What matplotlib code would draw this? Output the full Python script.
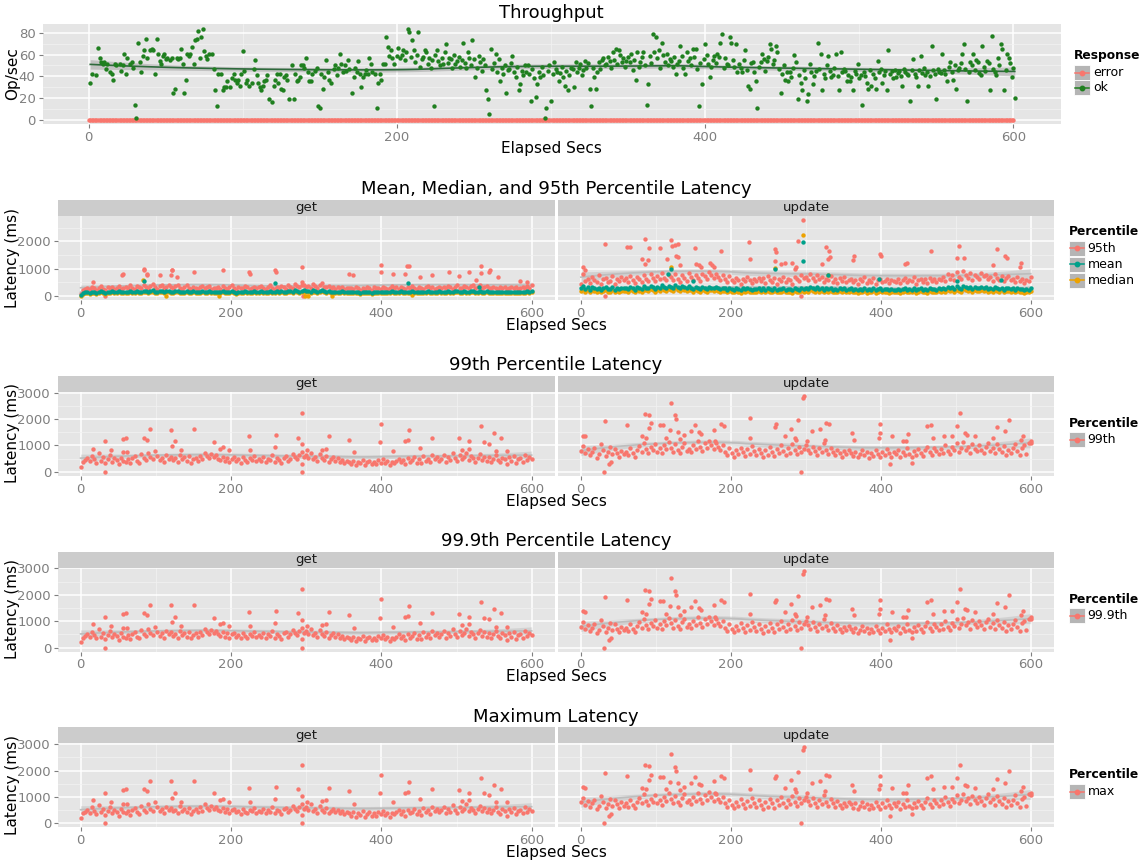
import numpy as np
import matplotlib.pyplot as plt
from matplotlib.patches import Rectangle
from matplotlib.lines import Line2D

# ---------------- values ----------------
# Throughput, successful ops/sec as (elapsed second, value)
tp_ok_points = [
    (1, 34), (2, 42), (5, 41), (6, 66), (7, 57), (8, 53), (9, 51), (10, 53), (11, 47), (12, 51),
    (14, 44), (15, 42), (16, 37), (17, 51), (18, 50), (20, 51), (21, 45), (22, 50), (23, 61), (24, 42),
    (25, 57), (27, 51), (28, 53), (29, 48), (30, 14), (31, 2), (32, 71), (33, 53), (34, 44), (35, 59),
    (36, 64), (37, 74), (38, 57), (40, 64), (41, 65), (42, 64), (43, 42), (44, 74), (45, 61), (46, 54),
    (47, 51), (48, 59), (49, 61), (50, 56), (51, 57), (53, 55), (54, 57), (55, 25), (56, 28), (57, 57),
    (58, 56), (59, 57), (60, 65), (61, 51), (62, 25), (63, 37), (64, 61), (65, 59), (66, 61), (67, 67),
    (68, 51), (69, 73), (70, 74), (71, 82), (72, 57), (73, 76), (74, 84), (75, 63), (76, 59), (77, 56),
    (78, 61), (80, 61), (81, 47), (82, 27), (83, 13), (84, 42), (86, 42), (87, 27), (88, 30), (89, 30),
    (90, 36), (92, 30), (93, 38), (94, 42), (95, 37), (96, 34), (97, 37), (98, 31), (99, 42), (100, 63),
    (101, 45), (102, 34), (103, 37), (104, 31), (106, 34), (107, 47), (108, 55), (109, 41), (110, 34), (111, 30),
    (112, 27), (113, 31), (114, 36), (115, 37), (116, 41), (117, 19), (119, 16), (120, 31), (121, 37), (122, 42),
    (123, 34), (124, 42), (125, 28), (126, 27), (127, 39), (128, 41), (129, 37), (130, 19), (132, 50), (133, 19),
    (134, 42), (135, 36), (136, 37), (137, 39), (138, 50), (139, 50), (140, 48), (141, 57), (142, 44), (143, 36),
    (144, 36), (145, 42), (147, 45), (148, 48), (149, 13), (150, 11), (151, 42), (152, 28), (153, 39), (154, 55),
    (155, 44), (156, 37), (157, 34), (159, 47), (160, 50), (161, 41), (162, 48), (163, 61), (164, 51), (165, 44),
    (166, 50), (167, 45), (168, 55), (169, 47), (171, 25), (172, 39), (173, 48), (174, 44), (175, 54), (176, 42),
    (177, 30), (178, 39), (179, 42), (180, 46), (181, 42), (182, 57), (183, 51), (184, 44), (186, 42), (187, 11),
    (188, 34), (189, 42), (190, 37), (191, 51), (192, 51), (193, 76), (194, 67), (195, 59), (196, 64), (197, 57),
    (198, 51), (200, 59), (201, 66), (202, 57), (204, 64), (207, 84), (208, 81), (210, 73), (211, 64), (214, 81),
    (216, 56), (218, 64), (220, 51), (221, 57), (222, 48), (224, 13), (226, 64), (227, 54), (230, 51), (232, 70),
    (234, 57), (236, 48), (239, 54), (243, 71), (245, 48), (247, 57), (249, 73), (251, 39), (253, 59), (256, 56),
    (258, 27), (259, 19), (260, 5), (261, 65), (264, 61), (266, 56), (267, 36), (270, 50), (271, 25), (273, 47),
    (275, 59), (277, 39), (279, 27), (280, 33), (284, 44), (285, 50), (287, 17), (290, 21), (291, 33), (293, 39),
    (296, 2), (297, 11), (300, 17), (302, 53), (304, 44), (305, 36), (308, 39), (309, 31), (311, 27), (313, 48),
    (314, 47), (315, 30), (316, 53), (318, 48), (320, 41), (322, 54), (323, 48), (325, 28), (326, 13), (327, 48),
    (328, 39), (329, 28), (330, 44), (331, 53), (334, 57), (336, 51), (338, 54), (340, 62), (342, 65), (344, 64),
    (347, 57), (349, 54), (351, 53), (352, 61), (355, 37), (356, 62), (358, 53), (360, 62), (361, 50), (362, 14),
    (363, 33), (364, 59), (366, 79), (367, 62), (368, 76), (370, 64), (372, 71), (374, 53), (375, 61), (376, 50),
    (378, 54), (381, 42), (383, 54), (384, 68), (387, 42), (388, 62), (390, 57), (392, 65), (394, 65), (396, 13),
    (398, 33), (400, 70), (402, 51), (403, 39), (406, 59), (408, 61), (410, 71), (411, 79), (414, 51), (416, 76),
    (417, 71), (420, 70), (421, 44), (422, 51), (424, 44), (426, 64), (428, 31), (429, 28), (431, 53), (433, 36),
    (434, 11), (436, 53), (437, 61), (440, 54), (442, 70), (443, 65), (446, 68), (447, 62), (449, 25), (452, 37),
    (453, 44), (454, 36), (456, 39), (458, 60), (460, 19), (462, 34), (463, 27), (466, 17), (467, 24), (468, 51),
    (470, 33), (472, 45), (473, 71), (475, 61), (476, 27), (479, 50), (480, 59), (482, 39), (485, 61), (487, 27),
    (488, 62), (491, 45), (492, 36), (494, 36), (496, 27), (499, 51), (501, 41), (502, 14), (505, 34), (506, 28),
    (508, 31), (511, 28), (512, 54), (515, 34), (518, 27), (519, 64), (521, 45), (524, 39), (526, 45), (528, 31),
    (531, 42), (533, 17), (535, 56), (538, 31), (540, 59), (543, 41), (545, 31), (547, 68), (550, 19), (552, 44),
    (554, 61), (557, 36), (559, 53), (561, 37), (563, 28), (565, 48), (567, 61), (568, 70), (570, 17), (572, 53),
    (574, 61), (577, 53), (579, 41), (580, 68), (583, 54), (585, 27), (586, 77), (589, 41), (590, 57), (592, 70),
    (593, 65), (594, 27), (596, 61), (597, 57), (599, 39), (600, 48), (601, 20),
]
# the crowded middle band after 200 s, estimated where single points blur together
tp_ok_band_points = [
    (203, 60), (205, 55), (206, 62), (209, 58), (212, 53), (213, 60), (215, 49), (217, 58), (219, 62), (223, 55),
    (225, 60), (228, 50), (229, 57), (231, 62), (233, 52), (235, 56), (237, 60), (238, 51), (240, 58), (241, 49),
    (242, 55), (244, 52), (246, 62), (248, 50), (250, 56), (252, 48), (254, 53), (255, 45), (257, 50), (262, 47),
    (263, 52), (265, 44), (268, 48), (269, 42), (272, 46), (274, 52), (276, 44), (278, 49), (281, 45), (282, 41),
    (283, 50), (286, 42), (288, 47), (289, 38), (292, 44), (294, 49), (295, 41), (298, 45), (299, 50), (301, 42),
    (303, 47), (306, 43), (307, 49), (310, 45), (312, 41), (317, 44), (319, 51), (321, 46), (324, 52), (332, 47),
    (333, 55), (335, 50), (337, 58), (339, 48), (341, 55), (343, 51), (345, 60), (346, 53), (348, 49), (350, 58),
    (353, 46), (354, 55), (357, 49), (359, 58), (365, 52), (369, 57), (371, 48), (373, 60), (377, 56), (379, 49),
    (380, 58), (382, 51), (385, 59), (386, 48), (389, 54), (391, 50), (393, 58), (395, 47), (397, 52), (399, 56),
    (401, 60), (404, 49), (405, 55), (407, 52), (409, 58), (412, 48), (413, 57), (415, 50), (418, 55), (419, 49),
    (423, 48), (425, 55), (427, 46), (430, 52), (432, 44), (435, 49), (438, 56), (439, 45), (441, 58), (444, 51),
    (445, 55), (448, 47), (450, 42), (451, 50), (455, 44), (457, 48), (459, 53), (461, 41), (464, 46), (465, 38),
    (469, 44), (471, 40), (474, 47), (477, 42), (478, 38), (481, 45), (483, 41), (484, 48), (486, 40), (489, 44),
    (490, 47), (493, 41), (495, 39), (497, 45), (498, 42), (500, 38), (503, 44), (504, 40), (507, 46), (509, 42),
    (510, 38), (513, 44), (514, 47), (516, 41), (517, 45), (520, 42), (522, 38), (523, 46), (525, 43), (527, 40),
    (529, 47), (530, 44), (532, 41), (534, 46), (536, 42), (537, 39), (539, 46), (541, 43), (542, 48), (544, 44),
    (546, 40), (548, 46), (549, 42), (551, 47), (553, 43), (555, 46), (556, 42), (558, 49), (560, 44), (562, 50),
    (564, 46), (566, 52), (569, 47), (571, 44), (573, 50), (575, 46), (576, 55), (578, 43), (581, 49), (582, 45),
    (584, 52), (587, 47), (588, 44), (591, 50), (595, 46), (598, 52),
]
# failed ops/sec: one point per second, all zero
tp_error_secs = list(range(0, 601))
tp_error = [0] * 601

# Latency (ms). Dense body sampled every 3 s; stand-out points listed apart.
get_p95_base = [90, 210, 260, 300, 250, 330, 280, 240, 310, 360, 270, 230, 320, 290, 350, 260, 300, 380, 250, 290,
                340, 280, 400, 310, 260, 370, 330, 290, 420, 350, 300, 380, 440, 320, 270, 360, 410, 300, 350, 390,
                330, 280, 360, 420, 300, 260, 340, 390, 310, 270, 350, 300, 250, 330, 380, 290, 320, 360, 270, 310,
                290, 340, 250, 380, 310, 270, 330, 420, 290, 240, 350, 310, 280, 370, 330, 260, 300, 350, 280, 320,
                360, 290, 250, 330, 400, 310, 270, 350, 300, 380, 330, 270, 410, 340, 300, 450, 360, 320, 390, 420,
                340, 380, 310, 430, 360, 290, 400, 470, 350, 320, 380, 300, 340, 270, 320, 290, 350, 260, 310, 280,
                300, 250, 330, 280, 240, 310, 270, 350, 290, 230, 320, 280, 300, 260, 340, 290, 250, 310, 370, 280,
                320, 270, 350, 300, 260, 330, 290, 380, 310, 270, 340, 300, 250, 320, 360, 290, 330, 270, 310, 350,
                300, 340, 280, 370, 320, 260, 350, 400, 310, 290, 380, 330, 280, 360, 420, 300, 340, 390, 290, 330,
                370, 310, 280, 350, 300, 260, 340, 290, 320, 270, 310, 350, 280, 330, 260, 300, 340, 290, 380, 310,
                420]
get_p95_peak_secs = [16, 33, 55, 56, 84, 85, 88, 89, 105, 120, 121, 122, 128, 151, 189, 224, 225, 259, 260, 294,
                     295, 296, 357, 362, 399, 400, 416, 432, 434, 437, 451, 468, 490, 503, 516, 526, 533, 533, 543, 545,
                     555, 584, 594]
get_p95_peak = [515, 0, 755, 815, 1000, 935, 755, 815, 755, 755, 970, 935, 695, 875, 935, 875, 790, 935, 875, 515,
                1055, 0, 815, 755, 1150, 875, 790, 790, 1115, 1090, 695, 755, 875, 720, 875, 575, 1115, 850, 875, 970,
                695, 540, 515]

get_mean_base = [40, 110, 140, 160, 130, 170, 150, 120, 160, 180, 140, 130, 170, 150, 180, 140, 160, 190, 140, 150,
                 170, 150, 190, 160, 140, 180, 170, 150, 200, 180, 160, 190, 210, 170, 150, 180, 200, 160, 180, 190,
                 170, 150, 180, 200, 160, 140, 170, 190, 160, 150, 180, 160, 140, 170, 190, 150, 160, 180, 150, 160,
                 150, 170, 140, 180, 160, 140, 170, 190, 150, 130, 170, 160, 150, 180, 170, 140, 160, 180, 150, 170,
                 180, 150, 140, 170, 190, 160, 150, 180, 160, 190, 170, 150, 200, 180, 160, 220, 190, 170, 200, 210,
                 180, 200, 170, 210, 190, 160, 200, 230, 180, 170, 190, 160, 170, 150, 170, 150, 180, 140, 160, 150,
                 160, 140, 170, 150, 130, 160, 140, 170, 150, 130, 160, 150, 160, 140, 170, 150, 140, 160, 180, 150,
                 170, 150, 180, 160, 140, 170, 150, 190, 160, 150, 170, 160, 140, 170, 180, 150, 170, 150, 160, 180,
                 160, 170, 150, 190, 170, 140, 180, 200, 160, 150, 190, 170, 150, 180, 200, 160, 170, 190, 150, 170,
                 180, 160, 150, 170, 160, 140, 170, 150, 160, 140, 160, 170, 150, 170, 140, 160, 170, 150, 180, 160,
                 190]
get_mean_peak_secs = [85, 259, 436, 530]
get_mean_peak = [540, 490, 490, 330]

get_median_base = [20, 80, 100, 120, 90, 130, 110, 80, 120, 140, 100, 90, 130, 110, 140, 100, 120, 150, 100, 110,
                   130, 110, 150, 120, 100, 140, 130, 110, 160, 140, 120, 150, 170, 130, 110, 140, 160, 120, 140, 150,
                   130, 110, 140, 160, 120, 100, 130, 150, 120, 110, 140, 120, 100, 130, 150, 110, 120, 140, 110, 120,
                   110, 130, 100, 140, 120, 100, 130, 150, 110, 90, 130, 120, 110, 140, 130, 100, 120, 140, 110, 130,
                   140, 110, 100, 130, 150, 120, 110, 140, 120, 150, 130, 110, 160, 140, 120, 180, 150, 130, 160, 170,
                   140, 160, 130, 170, 150, 120, 160, 190, 140, 130, 150, 120, 130, 110, 130, 110, 140, 100, 120, 110,
                   120, 100, 130, 110, 90, 120, 100, 130, 110, 90, 120, 110, 120, 100, 130, 110, 100, 120, 140, 110,
                   130, 110, 140, 120, 100, 130, 110, 150, 120, 110, 130, 120, 100, 130, 140, 110, 130, 110, 120, 140,
                   120, 130, 110, 150, 130, 100, 140, 160, 120, 110, 150, 130, 110, 140, 160, 120, 130, 150, 110, 130,
                   140, 120, 110, 130, 120, 100, 130, 110, 120, 100, 120, 130, 110, 130, 100, 120, 130, 110, 140, 120,
                   150]
get_median_peak_secs = [83, 113, 184, 298, 303, 334, 441]
get_median_peak = [600, 5, 20, 0, 10, 0, 40]

update_p95_base = [450, 820, 560, 640, 480, 700, 590, 520, 760, 430, 610, 680, 500, 570, 740, 460, 620, 540, 690, 580,
                   650, 520, 720, 600, 470, 700, 620, 520, 760, 640, 560, 800, 680, 540, 740, 620, 840, 680, 580, 780,
                   700, 580, 820, 640, 520, 760, 660, 560, 860, 700, 600, 780, 660, 560, 820, 720, 640, 880, 760, 660,
                   820, 700, 600, 760, 640, 520, 720, 600, 500, 680, 580, 460, 640, 540, 700, 600, 480, 640, 560, 680,
                   540, 650, 480, 720, 600, 530, 680, 460, 620, 560, 700, 500, 640, 580, 450, 690, 610, 540, 760, 650,
                   700, 580, 820, 660, 540, 760, 620, 700, 500, 640, 580, 720, 520, 610, 480, 660, 560, 690, 530, 600,
                   640, 500, 580, 460, 620, 540, 700, 480, 600, 520, 660, 450, 580, 640, 500, 560, 620, 470, 600, 540,
                   520, 620, 480, 580, 660, 500, 600, 540, 700, 460, 580, 640, 520, 610, 480, 680, 560, 620, 500, 640,
                   600, 700, 560, 820, 640, 760, 580, 880, 700, 620, 900, 760, 680, 840, 600, 780, 700, 640, 860, 720,
                   780, 620, 700, 560, 820, 680, 600, 740, 540, 660, 720, 580, 640, 500, 700, 560, 620, 480, 600, 540,
                   700]
update_p95_peak_secs = [3, 5, 32, 32, 62, 65, 82, 85, 85, 89, 91, 106, 115, 120, 121, 125, 129, 127, 130, 132,
                        152, 153, 157, 160, 172, 175, 178, 187, 224, 225, 259, 260, 259, 267, 272, 282, 285, 287, 290, 296,
                        294, 322, 327, 331, 329, 332, 363, 364, 399, 400, 432, 435, 467, 502, 504, 511, 550, 555, 565, 568,
                        585, 587]
update_p95_peak = [1060, 940, 1900, 0, 1800, 1780, 1360, 2080, 1180, 1325, 1750, 1750, 1360, 2050, 1840, 1870, 1900, 1445, 1420, 1120,
                   1760, 1180, 1120, 1060, 1215, 1120, 1060, 1660, 1960, 1340, 1720, 1600, 1265, 1180, 1215, 1215, 1000, 1060, 2000, 2780,
                   0, 1180, 1800, 1660, 1360, 1420, 1300, 1460, 1540, 1480, 1180, 1215, 1630, 1385, 1840, 1385, 1145, 1700, 1480, 1385,
                   1060, 1215]

update_mean_base = [300, 380, 260, 320, 240, 340, 280, 250, 310, 220, 290, 330, 250, 270, 320, 230, 290, 260, 310, 280,
                    300, 250, 320, 280, 230, 340, 300, 260, 360, 310, 280, 380, 330, 270, 350, 300, 400, 330, 290, 370,
                    340, 300, 420, 320, 280, 380, 330, 290, 360, 310, 270, 340, 300, 260, 330, 300, 270, 340, 310, 280,
                    320, 290, 260, 310, 280, 240, 300, 270, 230, 290, 260, 220, 280, 250, 300, 260, 230, 270, 250, 290,
                    240, 280, 220, 300, 260, 240, 290, 230, 270, 250, 290, 230, 270, 250, 220, 290, 260, 240, 310, 270,
                    300, 260, 330, 280, 250, 320, 270, 300, 240, 280, 260, 300, 240, 270, 230, 280, 250, 290, 240, 270,
                    280, 230, 260, 220, 270, 240, 300, 220, 260, 240, 280, 220, 260, 280, 230, 250, 270, 220, 260, 240,
                    240, 270, 220, 260, 290, 230, 260, 240, 300, 220, 260, 280, 240, 270, 220, 290, 250, 270, 230, 280,
                    270, 300, 250, 340, 280, 320, 260, 360, 300, 270, 370, 320, 290, 340, 270, 320, 300, 280, 350, 300,
                    320, 270, 300, 250, 330, 290, 260, 310, 240, 280, 300, 250, 280, 230, 300, 250, 270, 220, 260, 240,
                    300]
update_mean_peak_secs = [116, 120, 150, 259, 296, 296, 330, 398, 502, 560]
update_mean_peak = [820, 1000, 560, 975, 1990, 1265, 760, 640, 560, 600]

update_median_base = [200, 260, 170, 210, 150, 230, 180, 160, 200, 140, 190, 220, 160, 170, 210, 140, 190, 170, 200, 180,
                      200, 160, 210, 180, 140, 230, 200, 170, 240, 210, 180, 260, 220, 170, 240, 200, 280, 220, 190, 250,
                      230, 200, 290, 210, 180, 260, 220, 190, 240, 210, 170, 230, 200, 170, 220, 200, 170, 230, 210, 180,
                      210, 190, 160, 200, 180, 150, 200, 170, 140, 190, 160, 130, 180, 160, 200, 160, 140, 170, 160, 190,
                      150, 180, 140, 200, 160, 150, 190, 140, 170, 160, 190, 140, 170, 160, 130, 190, 160, 150, 200, 170,
                      200, 160, 220, 180, 160, 210, 170, 200, 150, 180, 160, 200, 150, 170, 140, 180, 160, 190, 150, 170,
                      180, 140, 160, 130, 170, 150, 200, 130, 160, 150, 180, 130, 160, 180, 140, 150, 170, 130, 160, 150,
                      150, 170, 130, 160, 190, 140, 160, 150, 200, 130, 160, 180, 150, 170, 130, 190, 150, 170, 140, 180,
                      170, 200, 160, 230, 180, 210, 160, 240, 200, 170, 250, 210, 190, 230, 170, 210, 200, 180, 240, 200,
                      210, 170, 200, 160, 220, 190, 160, 210, 150, 180, 200, 160, 180, 140, 200, 160, 170, 130, 160, 150,
                      200]
update_median_peak_secs = [120, 259, 296, 330]
update_median_peak = [1060, 1010, 2230, 780]

get_p99_base = [200, 380, 450, 520, 400, 610, 480, 350, 700, 420, 560, 330, 480, 620, 390, 510, 440, 300, 540, 420,
                380, 470, 320, 520, 600, 420, 350, 680, 510, 440, 720, 560, 480, 800, 610, 460, 540, 380, 630, 500,
                580, 460, 520, 380, 650, 480, 560, 420, 590, 350, 470, 540, 420, 610, 480, 720, 600, 520, 680, 560,
                620, 500, 460, 580, 420, 540, 380, 500, 560, 420, 490, 350, 560, 440, 380, 520, 460, 590, 400, 480,
                420, 560, 380, 500, 450, 620, 380, 520, 460, 340, 540, 600, 420, 500, 680, 560, 480, 620, 740, 560,
                640, 520, 720, 480, 560, 400, 660, 520, 440, 600, 380, 480, 560, 420, 520, 380, 460, 340, 420, 380,
                300, 420, 260, 380, 320, 460, 250, 360, 420, 300, 380, 280, 440, 350, 480, 320, 400, 260, 380, 340,
                420, 500, 360, 460, 300, 520, 380, 440, 560, 340, 480, 320, 600, 420, 500, 360, 640, 480, 560, 420,
                500, 620, 380, 560, 440, 700, 520, 400, 640, 480, 560, 720, 460, 600, 520, 380, 540, 660, 460, 580,
                420, 560, 380, 500, 640, 440, 360, 540, 480, 300, 560, 420, 600, 340, 480, 520, 380, 620, 440, 560,
                470]
get_p99_peak_secs = [16, 32, 33, 40, 56, 57, 60, 62, 84, 88, 93, 120, 121, 126, 134, 151, 178, 185, 189, 197,
                     224, 225, 259, 260, 289, 294, 294, 295, 295, 301, 321, 327, 331, 357, 364, 398, 399, 416, 432, 436,
                     437, 451, 467, 503, 507, 516, 517, 533, 536, 543, 550, 553, 559, 567]
get_p99_peak = [880, 0, 1170, 820, 755, 1260, 1300, 755, 1300, 1220, 1625, 1600, 970, 1170, 820, 1625, 1135, 880, 945, 820,
                1350, 820, 945, 1390, 1300, 1045, 315, 2230, 0, 820, 845, 880, 1350, 1220, 755, 1135, 1830, 795, 1170, 1200,
                1575, 920, 1300, 1285, 845, 1170, 880, 1730, 1135, 1070, 1475, 795, 1300, 795]

update_p99_base = [800, 980, 700, 860, 620, 760, 900, 540, 680, 1050, 820, 600, 740, 940, 660, 880, 720, 580, 800, 680,
                   760, 620, 900, 700, 580, 820, 980, 760, 1100, 860, 700, 940, 820, 1060, 760, 900, 700, 1000, 860, 1140,
                   920, 760, 1040, 820, 700, 960, 1100, 800, 880, 740, 1000, 860, 1160, 940, 780, 1080, 900, 1180, 1000, 860,
                   1100, 940, 820, 1020, 760, 640, 900, 700, 580, 820, 660, 920, 740, 600, 860, 680, 980, 780, 620, 880,
                   700, 560, 820, 640, 940, 760, 600, 880, 700, 1000, 780, 640, 900, 720, 1040, 820, 660, 960, 760, 880,
                   1020, 840, 700, 960, 780, 620, 900, 740, 1080, 820, 680, 920, 760, 620, 840, 700, 580, 780, 660, 820,
                   720, 600, 760, 560, 680, 820, 620, 740, 540, 700, 600, 820, 660, 560, 760, 640, 880, 700, 580, 760,
                   660, 820, 560, 740, 620, 900, 680, 580, 780, 640, 860, 700, 600, 820, 960, 740, 620, 900, 780, 660,
                   880, 720, 1000, 800, 660, 940, 820, 1080, 760, 900, 1120, 840, 960, 720, 1040, 880, 780, 1000, 840, 700,
                   960, 1100, 800, 920, 700, 1040, 860, 740, 980, 620, 840, 700, 900, 1060, 780, 640, 920, 1000, 680, 1100,
                   1080]
update_p99_peak_secs = [3, 6, 32, 31, 37, 40, 62, 82, 85, 87, 91, 91, 94, 105, 109, 114, 119, 120, 125, 127,
                        130, 132, 137, 147, 152, 157, 160, 177, 179, 187, 191, 225, 226, 259, 260, 272, 280, 285, 287, 290,
                        294, 296, 297, 302, 308, 319, 325, 327, 331, 362, 364, 397, 399, 399, 412, 415, 430, 434, 436, 442,
                        461, 467, 470, 484, 495, 502, 505, 512, 515, 525, 550, 555, 565, 571, 587, 590, 600]
update_p99_peak = [1375, 1340, 1910, 0, 290, 375, 1790, 1340, 2200, 1290, 2160, 1660, 1850, 1760, 1760, 1290, 1575, 2625, 2140, 2000,
                   1525, 1250, 1390, 1540, 1760, 1500, 1440, 1600, 1160, 1810, 1725, 2040, 1290, 1710, 1810, 1340, 1640, 1290, 1190, 1950,
                   0, 2790, 2890, 1160, 1540, 1625, 1225, 1850, 1810, 1475, 1225, 1290, 1475, 1810, 290, 1340, 1160, 1160, 1440, 350,
                   1725, 1790, 1290, 1375, 1375, 1725, 2225, 1475, 1410, 1340, 1290, 1690, 1540, 1975, 1225, 1375, 1160]

# the 99.9th percentile and maximum panels show the same points as the 99th
get_p999_base, get_p999_peak_secs, get_p999_peak = get_p99_base, get_p99_peak_secs, get_p99_peak
update_p999_base, update_p999_peak_secs, update_p999_peak = update_p99_base, update_p99_peak_secs, update_p99_peak
get_max_base, get_max_peak_secs, get_max_peak = get_p99_base, get_p99_peak_secs, get_p99_peak
update_max_base, update_max_peak_secs, update_max_peak = update_p99_base, update_p99_peak_secs, update_p99_peak

BASE_STEP = 3  # seconds between samples of the *_base lists

# ---------------- style ----------------
RED, GREEN, TEAL, ORANGE = "#F8766D", "#1F7F1F", "#00A08A", "#EDA200"
PANEL_BG, STRIP_BG, TICK_GREY = "#E5E5E5", "#CCCCCC", "#7F7F7F"
W, H = 1140, 865
PT = 10  # marker area

fig = plt.figure(figsize=(W / 100, H / 100), dpi=100)


def px_axes(x0, y0, x1, y1):
    # box in pixels, measured from the top-left corner
    return fig.add_axes([x0 / W, 1 - y1 / H, (x1 - x0) / W, (y1 - y0) / H])


def series(base, peak_secs, peak):
    x = list(np.arange(len(base)) * BASE_STEP) + list(peak_secs)
    return np.array(x, float), np.array(list(base) + list(peak), float)


def data_lim(values):
    lo, hi = min(values), max(values)
    pad = 0.05 * (hi - lo)
    return lo - pad, hi + pad


def style_panel(ax, yticks, yminor, ylim, show_y=True):
    ax.set_facecolor(PANEL_BG)
    for s in ax.spines.values():
        s.set_visible(False)
    ax.set_xlim(-30, 631)
    ax.set_ylim(*ylim)
    ax.set_xticks([0, 200, 400, 600])
    ax.set_xticks([100, 300, 500], minor=True)
    ax.set_yticks(yticks)
    ax.set_yticks(yminor, minor=True)
    ax.grid(which="major", color="white", lw=1.1)
    ax.grid(which="minor", color="#F2F2F2", lw=0.5)
    ax.set_axisbelow(True)
    ax.tick_params(which="major", length=3, width=0.8, color=TICK_GREY,
                   labelsize=9.5, labelcolor=TICK_GREY, pad=2)
    ax.tick_params(which="minor", length=0)
    if not show_y:
        ax.tick_params(axis="y", left=False, labelleft=False)


def loess(x, y, xs, span=0.75):
    # local quadratic fit with tricube weights, as geom_smooth does
    k = int(np.ceil(span * len(x)))
    fits, spread = [], []
    for x0 in xs:
        d = np.abs(x - x0)
        h = np.sort(d)[k - 1]
        w = np.clip(1 - (d / h) ** 3, 0, None) ** 3
        A = np.vstack([np.ones_like(x), x - x0, (x - x0) ** 2]).T
        AtW = A.T * w
        row = (np.linalg.pinv(AtW @ A) @ AtW)[0]
        fits.append(row @ y)
        spread.append(np.sqrt(np.sum(row ** 2)))
    return np.array(fits), np.array(spread)


def smooth(ax, x, y, color, lw, band_alpha):
    xs = np.linspace(x.min(), x.max(), 80)
    fit_at_x, _ = loess(x, y, x)
    sigma = np.sqrt(np.sum((y - fit_at_x) ** 2) / (len(x) - 5))
    ys, spread = loess(x, y, xs)
    ax.fill_between(xs, ys - 1.96 * sigma * spread, ys + 1.96 * sigma * spread,
                    color="#999999", alpha=band_alpha, lw=0, zorder=3)
    ax.plot(xs, ys, color=color, lw=lw, zorder=4)


def legend(x, y_title, title, items, row=16):
    fig.text(x / W, 1 - y_title / H, title, fontsize=8.8, fontweight="bold",
             va="center", ha="left")
    for i, (label, col) in enumerate(items):
        yc = y_title + 16.6 + row * i
        fig.add_artist(Rectangle((x / W, 1 - (yc + 7.5) / H), 16 / W, 15 / H,
                                 transform=fig.transFigure, facecolor="#B5B5B5",
                                 edgecolor="white", lw=0.6))
        fig.add_artist(Line2D([(x + 1) / W, (x + 15) / W], [1 - yc / H] * 2,
                              transform=fig.transFigure, color=col, lw=1.1))
        fig.add_artist(Line2D([(x + 8) / W], [1 - yc / H], transform=fig.transFigure,
                              marker="o", ms=3.2, color=col, lw=0))
        fig.text((x + 19) / W, 1 - yc / H, label, fontsize=9, va="center", ha="left")


# ---------------- throughput ----------------
all_ok = sorted(tp_ok_points + tp_ok_band_points)
ok_x = np.array([p[0] for p in all_ok], float)
ok_y = np.array([p[1] for p in all_ok], float)
ax = px_axes(42.5, 24, 1061, 124.3)
style_panel(ax, [0, 20, 40, 60, 80], [10, 30, 50, 70], data_lim(list(ok_y) + tp_error))
smooth(ax, ok_x, ok_y, "#2E6A3C", 1.2, 0.45)
ax.scatter(tp_error_secs, tp_error, s=PT, color=RED, lw=0, zorder=5)
ax.scatter(ok_x, ok_y, s=PT, color=GREEN, lw=0, zorder=5)
fig.text(551.7 / W, 1 - 13.3 / H, "Throughput", fontsize=13, ha="center", va="center")
fig.text(551.7 / W, 1 - 148 / H, "Elapsed Secs", fontsize=11, ha="center", va="center")
fig.text(12.5 / W, 1 - 74 / H, "Op/sec", fontsize=11, rotation=90, ha="center", va="center")
legend(1074, 56, "Response", [("error", RED), ("ok", GREEN)], row=15)

# ---------------- latency blocks ----------------
blocks = [
    ("Mean, Median, and 95th Percentile Latency", 200,
     [("95th", RED, get_p95_base, get_p95_peak_secs, get_p95_peak,
       update_p95_base, update_p95_peak_secs, update_p95_peak),
      ("median", ORANGE, get_median_base, get_median_peak_secs, get_median_peak,
       update_median_base, update_median_peak_secs, update_median_peak),
      ("mean", TEAL, get_mean_base, get_mean_peak_secs, get_mean_peak,
       update_mean_base, update_mean_peak_secs, update_mean_peak)],
     [("95th", RED), ("mean", TEAL), ("median", ORANGE)],
     [0, 1000, 2000], [500, 1500, 2500]),
    ("99th Percentile Latency", 375.7,
     [("99th", RED, get_p99_base, get_p99_peak_secs, get_p99_peak,
       update_p99_base, update_p99_peak_secs, update_p99_peak)],
     [("99th", RED)], [0, 1000, 2000, 3000], [500, 1500, 2500]),
    ("99.9th Percentile Latency", 551.5,
     [("99.9th", RED, get_p999_base, get_p999_peak_secs, get_p999_peak,
       update_p999_base, update_p999_peak_secs, update_p999_peak)],
     [("99.9th", RED)], [0, 1000, 2000, 3000], [500, 1500, 2500]),
    ("Maximum Latency", 727.3,
     [("max", RED, get_max_base, get_max_peak_secs, get_max_peak,
       update_max_base, update_max_peak_secs, update_max_peak)],
     [("max", RED)], [0, 1000, 2000, 3000], [500, 1500, 2500]),
]

facets = [("get", 58, 555), ("update", 558.3, 1054)]

for title, top, lines, legend_items, yticks, yminor in blocks:
    get_data = [series(l[2], l[3], l[4]) for l in lines]
    upd_data = [series(l[5], l[6], l[7]) for l in lines]
    all_y = np.concatenate([d[1] for d in get_data + upd_data])
    ylim = data_lim(list(all_y))
    for (name, x0, x1), data in zip(facets, [get_data, upd_data]):
        strip = px_axes(x0, top, x1, top + 16)
        strip.set_facecolor(STRIP_BG)
        strip.set_xticks([])
        strip.set_yticks([])
        for s in strip.spines.values():
            s.set_visible(False)
        strip.text(0.5, 0.5, name, fontsize=9.5, color="#1A1A1A",
                   ha="center", va="center", transform=strip.transAxes)
        ax = px_axes(x0, top + 16, x1, top + 100)
        style_panel(ax, yticks, yminor, ylim, show_y=(name == "get"))
        for x, y in data:
            smooth(ax, x, y, "#BDBDBD", 1.2, 0.25)
        for (x, y), line in zip(data, lines):
            ax.scatter(x, y, s=PT, color=line[1], lw=0, zorder=5)
    fig.text(556 / W, 1 - (top - 10.5) / H, title, fontsize=13, ha="center", va="center")
    fig.text(556 / W, 1 - (top + 125.5) / H, "Elapsed Secs", fontsize=11, ha="center", va="center")
    fig.text(13 / W, 1 - (top + 57.5) / H, "Latency (ms)", fontsize=11, rotation=90,
             ha="center", va="center")
    legend(1068.5, top + 55.6 - 8 * len(legend_items), "Percentile", legend_items)

fig.savefig("out.png", dpi=100)
